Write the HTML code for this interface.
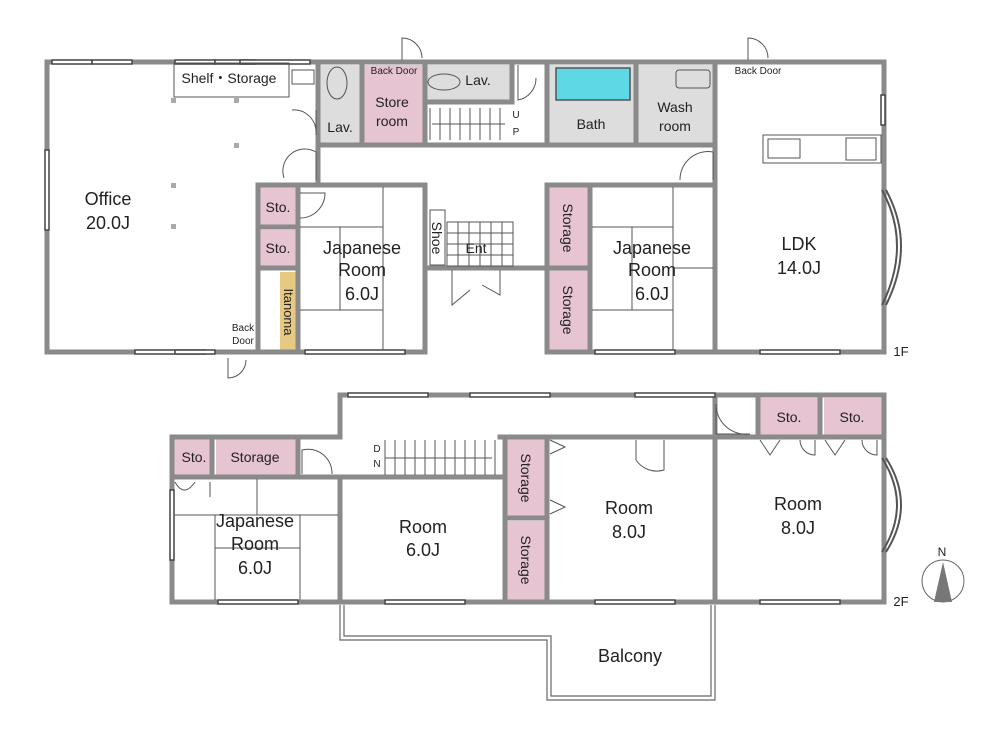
<!DOCTYPE html>
<html><head><meta charset="utf-8"><style>
html,body{margin:0;padding:0;background:#fff;width:1000px;height:750px;overflow:hidden}
svg text{font-family:"Liberation Sans",sans-serif;fill:#222}
</style></head><body>
<svg width="1000" height="750" viewBox="0 0 1000 750" xmlns="http://www.w3.org/2000/svg">
<g stroke="none">
<rect x="362" y="65" width="63" height="78" fill="#e6c4d1"/>
<rect x="320" y="65" width="42" height="78" fill="#ddd"/>
<rect x="427" y="65" width="85" height="38" fill="#ddd"/>
<rect x="549" y="65" width="166" height="78" fill="#ddd"/>
<rect x="556" y="68" width="74" height="32" fill="#5fd8e6" stroke="#555" stroke-width="1.5"/>
<rect x="260" y="187" width="38" height="40" fill="#e6c4d1"/>
<rect x="260" y="230" width="38" height="38" fill="#e6c4d1"/>
<rect x="280" y="272" width="18" height="78" fill="#e8c982"/>
<rect x="549" y="187" width="40" height="80" fill="#e6c4d1"/>
<rect x="549" y="270" width="40" height="80" fill="#e6c4d1"/>
<rect x="174" y="439" width="38" height="36" fill="#e6c4d1"/>
<rect x="216" y="439" width="80" height="36" fill="#e6c4d1"/>
<rect x="507" y="439" width="38" height="78" fill="#e6c4d1"/>
<rect x="507" y="521" width="38" height="79" fill="#e6c4d1"/>
<rect x="760" y="398" width="58" height="37" fill="#e6c4d1"/>
<rect x="824" y="398" width="58" height="37" fill="#e6c4d1"/>
<g fill="#aaa">
<rect x="171" y="98" width="5" height="5"/><rect x="234" y="98" width="5" height="5"/>
<rect x="234" y="143" width="5" height="5"/><rect x="171" y="183" width="5" height="5"/><rect x="171" y="224" width="5" height="5"/>
</g>
</g>
<g stroke="#8a8a8a" stroke-width="5" fill="none" stroke-linecap="square">
<path d="M47 62 H884 V352 H547 V268 H425 V352 H47 Z"/>
<path d="M318 62 V145 M318 145 H545 M362 62 V145 M425 62 V145 M512 62 V102 M427 102 H512 M547 62 V145 H715 V62 M636 62 V145"/>
<path d="M258 185 H425 V352 M258 185 V352 M258 227 H298 M258 268 H298 M298 185 V352"/>
<path d="M547 185 H715 V352 M547 185 V352 M590 185 V352 M547 268 H590 M715 145 V352"/>
<path d="M318 145 V185"/>
</g>
<g stroke="#8a8a8a" stroke-width="5" fill="none" stroke-linecap="square">
<path d="M340 395 H884 V602 H172 V437 H340 Z"/>
<path d="M172 477 H500 M340 477 V602 M500 437 H715 M505 437 V602 M547 437 V602 M505 518 H547 M715 395 V602 M715 437 H884 M758 395 V437 M820 395 V437 M212 437 V477 M298 437 V477"/>
</g>
<g stroke="#444" stroke-width="1.5" fill="#fff">
<rect x="52" y="60" width="40" height="4"/><rect x="92" y="60" width="40" height="4"/>
<rect x="175" y="60" width="40" height="4"/><rect x="215" y="60" width="40" height="4"/><rect x="240" y="60" width="70" height="4"/>
<rect x="135" y="350" width="70" height="4"/><rect x="175" y="350" width="40" height="4"/>
<rect x="760" y="350" width="80" height="4"/><rect x="595" y="350" width="80" height="4"/><rect x="305" y="350" width="100" height="4"/>
<rect x="45" y="150" width="4" height="80"/>
<rect x="348" y="393" width="80" height="4"/><rect x="470" y="393" width="80" height="4"/><rect x="635" y="393" width="80" height="4"/>
<rect x="595" y="600" width="80" height="4"/><rect x="760" y="600" width="80" height="4"/><rect x="385" y="600" width="80" height="4"/><rect x="218" y="600" width="80" height="4"/>
<rect x="170" y="490" width="4" height="70"/><rect x="881" y="95" width="4" height="30"/>
</g>
<g stroke="#555" stroke-width="1" fill="none">
<path d="M383 187 V350 M300 227 H383 M340 227 V310 M300 310 H383"/>
<path d="M673 187 V350 M592 227 H673 M632 227 V310 M592 310 H673 M673 268 H713"/>
<path d="M174 515 H338 M257 479 V515 M215 515 V600 M300 515 V600 M215 548 H300"/>
<rect x="174" y="63" width="115" height="34"/><rect x="292" y="70" width="22" height="14"/>
<rect x="763" y="135" width="118" height="28"/><rect x="768" y="139" width="32" height="19"/><rect x="846" y="138" width="30" height="22"/>
<rect x="676" y="70" width="34" height="18" rx="3"/>
<ellipse cx="337" cy="83" rx="10" ry="16"/><ellipse cx="444" cy="82" rx="16" ry="8"/>
<rect x="430" y="210" width="15" height="55"/><rect x="447" y="222" width="66" height="44"/>
<path d="M458 222 V266 M469 222 V266 M480 222 V266 M491 222 V266 M502 222 V266 M447 233 H513 M447 244 H513 M447 255 H513"/>
<path d="M430 108 V140 M440 108 V140 M450 108 V140 M460 108 V140 M470 108 V140 M480 108 V140 M490 108 V140 M500 108 V140 M432 124 H505"/>
<path d="M385 440 V475 M395 440 V475 M405 440 V475 M415 440 V475 M425 440 V475 M435 440 V475 M445 440 V475 M455 440 V475 M465 440 V475 M475 440 V475 M485 440 V475 M495 440 V475 M385 458 H492"/>
<path d="M882 190 Q912 245 882 305 M886 190 Q916 245 886 305" stroke-width="2"/>
<path d="M882 458 Q912 505 882 552 M886 458 Q916 505 886 552" stroke-width="2"/>
<path d="M402 60 V38 A20 20 0 0 1 422 58"/><path d="M748 60 V38 A20 20 0 0 1 768 58"/>
<path d="M292 110 A22 22 0 0 1 316 132 M316 110 V135"/>
<path d="M284 178 A22 22 0 0 1 316 152 M316 152 V180"/>
<path d="M300 193 H325 A25 25 0 0 1 300 218"/>
<path d="M680 180 A28 28 0 0 1 713 152 M713 152 V180"/>
<path d="M228 358 V378 A18 18 0 0 0 246 360"/>
<path d="M452 270 V305 L470 290 M500 270 V295 L482 285"/>
<path d="M302 474 V450 A24 24 0 0 1 332 474"/>
<path d="M636 440 V460 A25 25 0 0 0 664 470 V440"/>
<path d="M716 434 V404 A30 30 0 0 0 750 434 H716" />
<path d="M760 440 L770 455 L780 440 M800 440 A15 15 0 0 0 815 455 V440 M825 440 L835 455 L845 440 M862 440 A15 15 0 0 0 877 455 V440"/>
<path d="M550 440 L565 447 L550 454 M550 500 L565 507 L550 514"/>
<path d="M175 482 Q184 498 195 482 M210 482 V497"/>
<path d="M518 65 V100 A22 22 0 0 0 536 78"/>
</g>
<g stroke="#666" stroke-width="1.2" fill="none">
<path d="M340 605 V640 H547 V700 H715 V605"/>
<path d="M344 605 V636 H551 V696 H711 V605"/>
</g>
<circle cx="943" cy="581" r="21" fill="none" stroke="#666" stroke-width="1"/>
<polygon points="943,562 934,602 952,602" fill="#777"/>
<g font-size="18" text-anchor="middle">
<text x="108" y="205">Office</text><text x="108" y="229">20.0J</text>
<text x="362" y="254">Japanese</text><text x="362" y="276">Room</text><text x="362" y="300">6.0J</text>
<text x="652" y="254">Japanese</text><text x="652" y="276">Room</text><text x="652" y="300">6.0J</text>
<text x="799" y="250">LDK</text><text x="799" y="274">14.0J</text>
<text x="255" y="527">Japanese</text><text x="255" y="550">Room</text><text x="255" y="574">6.0J</text>
<text x="423" y="533">Room</text><text x="423" y="556">6.0J</text>
<text x="629" y="514">Room</text><text x="629" y="538">8.0J</text>
<text x="798" y="510">Room</text><text x="798" y="534">8.0J</text>
<text x="630" y="662">Balcony</text>
</g>
<g font-size="14" text-anchor="middle">
<text x="229" y="83">Shelf・Storage</text>
<text x="340" y="132">Lav.</text>
<text x="392" y="107">Store</text><text x="392" y="126">room</text>
<text x="478" y="85">Lav.</text>
<text x="591" y="129">Bath</text>
<text x="675" y="112">Wash</text><text x="675" y="131">room</text>
<text x="278" y="212">Sto.</text><text x="278" y="253">Sto.</text>
<text x="476" y="253">Ent</text>
<text x="194" y="462">Sto.</text><text x="255" y="462">Storage</text>
<text x="789" y="422">Sto.</text><text x="852" y="422">Sto.</text>
<text x="901" y="356" font-size="13">1F</text><text x="901" y="606" font-size="13">2F</text>
<text x="942" y="556" font-size="12" fill="#777">N</text>
</g>
<g font-size="10" text-anchor="middle">
<text x="394" y="74">Back Door</text><text x="758" y="74">Back Door</text>
<text x="243" y="331">Back</text><text x="243" y="344">Door</text>
<text x="516" y="118">U</text><text x="516" y="135">P</text>
<text x="377" y="452">D</text><text x="377" y="467">N</text>
</g>
<g font-size="14" text-anchor="middle">
<text transform="translate(432,238) rotate(90)">Shoe</text>
<text transform="translate(284,312) rotate(90)" font-size="13">Itanoma</text>
<text transform="translate(563,228) rotate(90)">Storage</text>
<text transform="translate(563,310) rotate(90)">Storage</text>
<text transform="translate(521,478) rotate(90)">Storage</text>
<text transform="translate(521,560) rotate(90)">Storage</text>
</g>
</svg>
</body></html>
